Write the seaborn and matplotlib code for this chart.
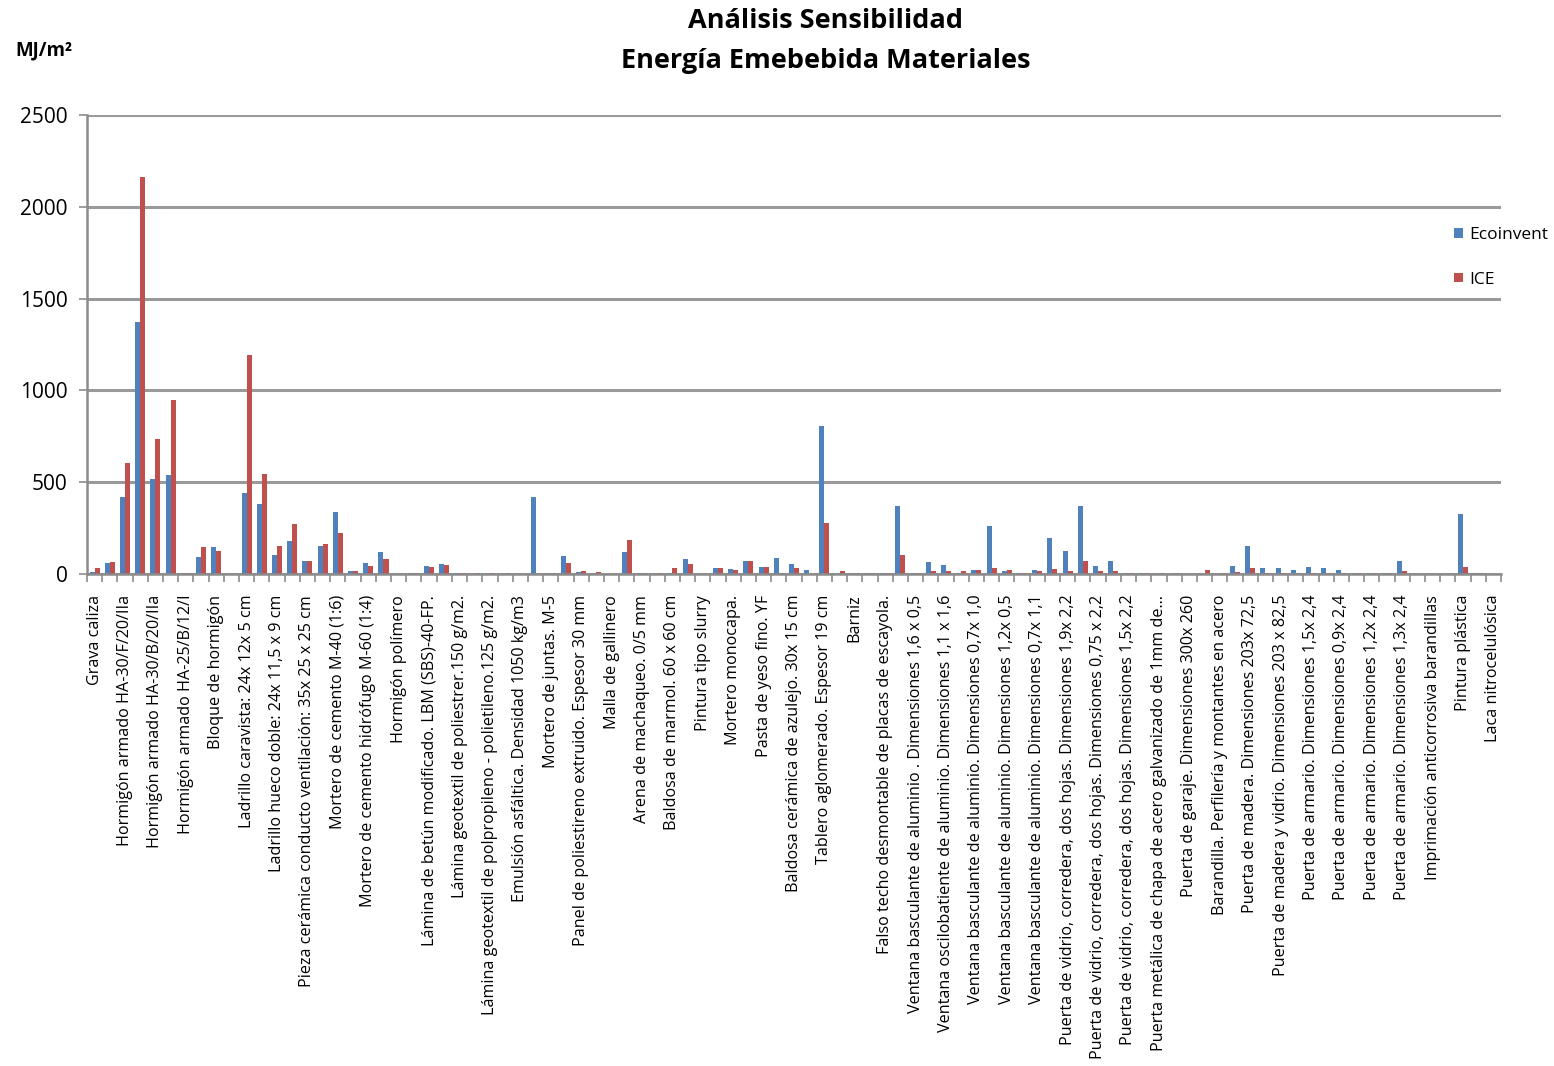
import matplotlib
matplotlib.use("Agg")
import matplotlib.pyplot as plt
from matplotlib.patches import Patch
from matplotlib.ticker import FixedLocator, MultipleLocator
import numpy as np
import pandas as pd
import seaborn as sns

# Etiquetas visibles (una de cada dos categorías)
etiquetas = [
    "Grava caliza",
    "Hormigón armado HA-30/F/20/IIa",
    "Hormigón armado HA-30/B/20/IIa",
    "Hormigón armado HA-25/B/12/I",
    "Bloque de hormigón",
    "Ladrillo caravista: 24x 12x 5 cm",
    "Ladrillo hueco doble: 24x 11,5 x 9 cm",
    "Pieza cerámica conducto ventilación: 35x 25 x 25 cm",
    "Mortero de cemento M-40 (1:6)",
    "Mortero de cemento hidrófugo M-60 (1:4)",
    "Hormigón polímero",
    "Lámina de betún modificado. LBM (SBS)-40-FP.",
    "Lámina geotextil de poliestrer.150 g/m2.",
    "Lámina geotextil de polpropileno - polietileno.125 g/m2.",
    "Emulsión asfáltica. Densidad 1050 kg/m3",
    "Mortero de juntas. M-5",
    "Panel de poliestireno extruido. Espesor 30 mm",
    "Malla de gallinero",
    "Arena de machaqueo. 0/5 mm",
    "Baldosa de marmol. 60 x 60 cm",
    "Pintura tipo slurry",
    "Mortero monocapa.",
    "Pasta de yeso fino. YF",
    "Baldosa cerámica de azulejo. 30x 15 cm",
    "Tablero aglomerado. Espesor 19 cm",
    "Barniz",
    "Falso techo desmontable de placas de escayola.",
    "Ventana basculante de aluminio . Dimensiones 1,6 x 0,5",
    "Ventana oscilobatiente de aluminio. Dimensiones 1,1 x 1,6",
    "Ventana basculante de aluminio. Dimensiones 0,7x 1,0",
    "Ventana basculante de aluminio. Dimensiones 1,2x 0,5",
    "Ventana basculante de aluminio. Dimensiones 0,7x 1,1",
    "Puerta de vidrio, corredera, dos hojas. Dimensiones 1,9x 2,2",
    "Puerta de vidrio, corredera, dos hojas. Dimensiones 0,75 x 2,2",
    "Puerta de vidrio, corredera, dos hojas. Dimensiones 1,5x 2,2",
    "Puerta metálica de chapa de acero galvanizado de 1mm de...",
    "Puerta de garaje. Dimensiones 300x 260",
    "Barandilla. Perfilería y montantes en acero",
    "Puerta de madera. Dimensiones 203x 72,5",
    "Puerta de madera y vidrio. Dimensiones 203 x 82,5",
    "Puerta de armario. Dimensiones 1,5x 2,4",
    "Puerta de armario. Dimensiones 0,9x 2,4",
    "Puerta de armario. Dimensiones 1,2x 2,4",
    "Puerta de armario. Dimensiones 1,3x 2,4",
    "Imprimación anticorrosiva barandillas",
    "Pintura plástica",
    "Laca nitrocelulósica",
]

# Energía embebida (MJ/m2) por material, 93 materiales
ecoinvent = [
    12, 60, 420, 1370, 515, 537, 8, 93, 145, 0,
    443, 380, 105, 182, 70, 150, 340, 17, 60, 120,
    0, 7, 43, 55, 3, 0, 0, 0, 0, 417,
    6, 100, 12, 6, 0, 118, 5, 0, 4, 82,
    0, 35, 27, 73, 38, 85, 53, 23, 805, 0,
    4, 4, 3, 370, 5, 64, 47, 8, 23, 262,
    16, 5, 23, 197, 125, 370, 44, 70, 6, 4,
    0, 0, 0, 0, 0, 44, 152, 35, 35, 20,
    38, 32, 23, 5, 4, 4, 70, 0, 0, 0,
    325, 5, 0,
]
ice = [
    35, 68, 605, 2160, 738, 948, 8, 145, 125, 0,
    1195, 543, 155, 273, 72, 163, 222, 15, 46, 83,
    0, 6, 38, 50, 5, 4, 4, 5, 0, 0,
    6, 60, 17, 10, 0, 183, 6, 5, 30, 52,
    0, 35, 22, 73, 38, 8, 35, 0, 278, 15,
    4, 4, 3, 105, 5, 17, 16, 16, 21, 32,
    23, 5, 16, 25, 16, 70, 14, 14, 4, 4,
    3, 3, 0, 24, 4, 10, 33, 7, 7, 6,
    6, 6, 5, 4, 4, 4, 17, 0, 0, 0,
    38, 5, 0,
]

series = ["Ecoinvent", "ICE"]
colores = ["#4F81BD", "#C0504D"]

n = len(ecoinvent)
df = pd.DataFrame({
    "material": list(range(n)) * 2,
    "serie": ["Ecoinvent"] * n + ["ICE"] * n,
    "valor": ecoinvent + ice,
})

plt.rcParams["font.family"] = ["Open Sans", "DejaVu Sans"]

fig = plt.figure(figsize=(15.54, 10.66), dpi=100)
ax = fig.add_axes([87 / 1554, 1 - 574 / 1066, (1501 - 87) / 1554, (574 - 115) / 1066])

sns.barplot(data=df, x="material", y="valor", hue="serie", order=list(range(n)),
            hue_order=series, palette=colores, width=0.66, gap=0, dodge=True,
            saturation=1, legend=False, ax=ax, errorbar=None,
            edgecolor="none", linewidth=0)

ax.set_xlim(-0.5, n - 0.5)
ax.set_ylim(0, 2500)
ax.yaxis.set_major_locator(MultipleLocator(500))
ax.grid(axis="y", color="#9a9a9a", linewidth=2.2)
ax.set_axisbelow(True)

for s in ["top", "right"]:
    ax.spines[s].set_visible(False)
for s in ["left", "bottom"]:
    ax.spines[s].set_color("#8c8c8c")
    ax.spines[s].set_linewidth(1.8)

ax.set_xlabel("")
ax.set_ylabel("")

# Etiquetas en las categorías impares, marcas en los límites de categoría
ax.xaxis.set_major_locator(FixedLocator(list(range(0, n, 2))))
ax.set_xticklabels(etiquetas, rotation=90, fontsize=11.6, va="top", ha="center")
ax.tick_params(axis="x", which="major", length=0, pad=15)
ax.xaxis.set_minor_locator(FixedLocator(list(np.arange(-0.5, n, 1.0))))
ax.tick_params(axis="x", which="minor", length=6, width=1.2, color="#8c8c8c", direction="out")
ax.tick_params(axis="y", length=6, width=1.2, color="#8c8c8c", labelsize=15, pad=8)

fig.text(826 / 1554, 1 - 21 / 1066, "Análisis Sensibilidad", ha="center", va="center",
         fontsize=19.5, fontweight="bold")
fig.text(826 / 1554, 1 - 61 / 1066, "Energía Emebebida Materiales", ha="center", va="center",
         fontsize=19.5, fontweight="bold")
fig.text(15 / 1554, 1 - 50 / 1066, "MJ/m²", ha="left", va="center",
         fontsize=13.5, fontweight="bold")

handles = [Patch(facecolor=c, edgecolor="none") for c in colores]
fig.legend(handles, series, loc="upper left", bbox_to_anchor=(1454 / 1554, 1 - 227 / 1066),
           frameon=False, handlelength=0.5, handleheight=0.5, handletextpad=0.35,
           labelspacing=1.65, fontsize=12.5, borderaxespad=0, borderpad=0)

fig.savefig("out.png", dpi=100, facecolor="white")
